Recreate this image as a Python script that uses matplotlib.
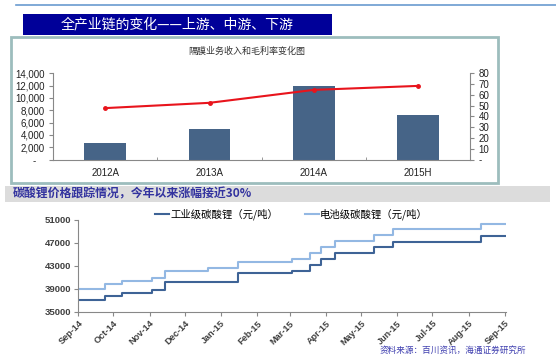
import numpy as np
import pandas as pd
import matplotlib
matplotlib.use("Agg")
import matplotlib.pyplot as plt
import matplotlib.dates as mdates
from matplotlib.patches import Rectangle

W, H = 556, 355
CJK = ['Noto Sans CJK SC', 'DejaVu Sans']
LAT = ['Liberation Sans', 'DejaVu Sans']

# top chart: separator business revenue + gross margin
years = ['2012A', '2013A', '2014A', '2015H']
revenue = [2600, 5000, 12000, 7200]
margin = [47.7, 52.6, 64.6, 68.3]

# bottom chart: lithium carbonate prices (step changes)
ind_dates = ['2014-09-01', '2014-09-24', '2014-10-08', '2014-11-03', '2014-11-14',
             '2015-01-16', '2015-03-03', '2015-03-18', '2015-03-28', '2015-04-09',
             '2015-05-12', '2015-05-28', '2015-08-12', '2015-09-02']
ind_price = [37000, 37800, 38300, 38800, 40100, 41700, 42100, 43100, 44200, 45200,
             46200, 47200, 48200, 48200]
bat_dates = ['2014-09-01', '2014-09-24', '2014-10-08', '2014-11-03', '2014-11-14',
             '2014-12-21', '2015-01-16', '2015-03-03', '2015-03-18', '2015-03-28',
             '2015-04-09', '2015-05-12', '2015-05-28', '2015-08-12', '2015-09-02']
bat_price = [39000, 39800, 40300, 40800, 42100, 42600, 43600, 44200, 45200, 46300,
             47300, 48300, 49300, 50300, 50300]

fig = plt.figure(figsize=(W / 100, H / 100), dpi=100)
fig.patch.set_facecolor('white')


def px_axes(left, top, right, bottom, **kw):
    return fig.add_axes([left / W, 1 - bottom / H, (right - left) / W, (bottom - top) / H], **kw)


# background decorations in pixel coords
bg = px_axes(0, 0, W, H)
bg.set_xlim(0, W)
bg.set_ylim(H, 0)
bg.axis('off')
bg.plot([16, W], [5, 5], color='#6A9BD0', lw=1.2)
bg.add_patch(Rectangle((23, 13.5), 308.5, 21.5, facecolor='#000099', edgecolor='none'))
bg.text(177, 24.5, '全产业链的变化——上游、中游、下游', color='white', fontsize=10,
        family=CJK, ha='center', va='center')
bg.add_patch(Rectangle((11, 36.5), 487, 146.5, facecolor='white', edgecolor='#9DBDBD', lw=2))
bg.text(247, 51.5, '隔膜业务收入和毛利率变化图', fontsize=6.5, family=CJK,
        color='#333333', ha='center', va='center')
bg.add_patch(Rectangle((5, 186), 545, 16, facecolor='#DCDCDC', edgecolor='none'))
bg.text(13, 194, '碳酸锂价格跟踪情况，今年以来涨幅接近30%', fontsize=8.6, family=CJK,
        color='#33339F', style='italic', weight='bold', ha='left', va='center')
bg.text(380, 350.8, '资料来源：百川资讯，海通证券研究所', fontsize=6.2, family=CJK,
        color='#4040B0', style='italic', ha='left', va='center')

# ---- top chart
ax1 = px_axes(53.2, 73.3, 470, 159.5)
x = np.arange(len(years))
ax1.bar(x, revenue, width=0.4, color='#466487', zorder=2)
ax1.set_xlim(-0.5, 3.5)
ax1.set_ylim(0, 14000)
ax1.set_yticks(np.arange(0, 14001, 2000))
ax1.set_yticklabels(['-   '] + [f'{v:,}' for v in range(2000, 14001, 2000)])
ax1.set_xticks(x)
ax1.set_xticklabels(years)
ax1.set_xticks(np.arange(-0.5, 3.6, 1), minor=True)
ax1.tick_params(axis='x', which='major', length=0, pad=6)
ax1.tick_params(axis='x', which='minor', length=2, direction='in', color='#888888')
ax1.tick_params(axis='y', length=3, pad=3, color='#888888')
for s in ['top', 'right']:
    ax1.spines[s].set_visible(False)
for s in ['left', 'bottom']:
    ax1.spines[s].set_color('#888888')
    ax1.spines[s].set_linewidth(0.8)

ax2 = ax1.twinx()
ax2.plot(x, margin, color='#E8141C', lw=1.5, marker='o', ms=2.5, zorder=3)
ax2.set_ylim(0, 80)
ax2.set_yticks(np.arange(0, 81, 10))
ax2.set_yticklabels(['-'] + [str(v) for v in range(10, 81, 10)])
ax2.tick_params(axis='y', length=3, pad=3, color='#888888')
for s in ['top', 'left', 'bottom']:
    ax2.spines[s].set_visible(False)
ax2.spines['right'].set_color('#888888')
ax2.spines['right'].set_linewidth(0.8)

for a in (ax1, ax2):
    for lab in a.get_xticklabels() + a.get_yticklabels():
        lab.set_family(LAT)
        lab.set_fontsize(7)
        lab.set_color('#222222')

# ---- bottom chart
ax3 = px_axes(78.3, 219.7, 506, 311.7)
l1, = ax3.step(pd.to_datetime(ind_dates), ind_price, where='post', color='#3E6396',
               lw=1.5, label='工业级碳酸锂（元/吨）')
l2, = ax3.step(pd.to_datetime(bat_dates), bat_price, where='post', color='#93B8E3',
               lw=1.5, label='电池级碳酸锂（元/吨）')
ax3.set_xlim(pd.Timestamp('2014-09-01'), pd.Timestamp('2015-09-02'))
ax3.set_ylim(35000, 51000)
ax3.set_yticks(np.arange(35000, 51001, 4000))
ax3.xaxis.set_major_locator(mdates.MonthLocator())
ax3.xaxis.set_major_formatter(mdates.DateFormatter('%b-%y'))
ax3.tick_params(axis='both', length=3, color='#888888', pad=2)
for s in ['top', 'right']:
    ax3.spines[s].set_visible(False)
for s in ['left', 'bottom']:
    ax3.spines[s].set_color('#888888')
    ax3.spines[s].set_linewidth(0.8)
for lab in ax3.get_yticklabels():
    lab.set_family(LAT)
    lab.set_fontsize(6.8)
    lab.set_weight('bold')
    lab.set_color('#404040')
for lab in ax3.get_xticklabels():
    lab.set_family(LAT)
    lab.set_fontsize(6.6)
    lab.set_weight('bold')
    lab.set_color('#404040')
    lab.set_rotation(45)
    lab.set_ha('right')
    lab.set_rotation_mode('anchor')

fig.legend(handles=[l1, l2], loc='center', bbox_to_anchor=(291.5 / W, 1 - 214 / H),
           ncol=2, frameon=False, handlelength=1.3, handletextpad=0.1,
           columnspacing=2.6, prop={'family': CJK, 'size': 7.5})

fig.savefig('out.png', dpi=100)
